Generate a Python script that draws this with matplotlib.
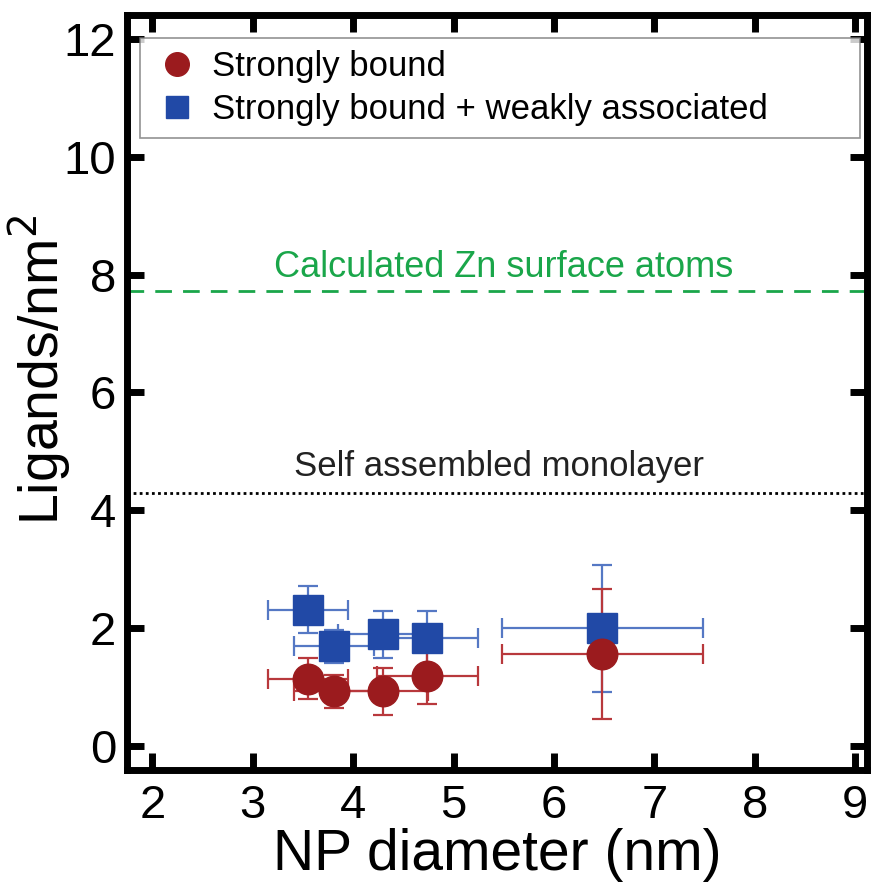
import matplotlib
matplotlib.use("Agg")
import matplotlib.pyplot as plt
from matplotlib.lines import Line2D

# Data
diam = [3.55, 3.81, 4.30, 4.74, 6.48]
diam_err = [0.40, 0.40, 0.45, 0.50, 1.00]
strong = [1.15, 0.93, 0.93, 1.20, 1.57]
strong_err = [0.35, 0.28, 0.40, 0.48, 1.10]
total = [2.32, 1.70, 1.90, 1.83, 2.00]
total_err = [0.40, 0.28, 0.40, 0.46, 1.08]
zn_surface = 7.72
sam = 4.30

regular = ['Liberation Sans', 'DejaVu Sans']
plt.rcParams['font.family'] = regular

fig = plt.figure(figsize=(8.77, 8.86), dpi=100)
ax = fig.add_axes([0.145, 0.131, 0.844, 0.852])

red_m = '#9b1b1e'
red_l = '#b8383c'
blue_m = '#2149a6'
blue_l = '#5578c4'

ax.errorbar(diam, total, yerr=total_err, xerr=diam_err, fmt='none',
            ecolor=blue_l, elinewidth=1.6, capsize=7, capthick=1.6, zorder=2)
ax.errorbar(diam, strong, yerr=strong_err, xerr=diam_err, fmt='none',
            ecolor=red_l, elinewidth=1.6, capsize=7, capthick=1.6, zorder=2)
ax.plot(diam, total, 's', color=blue_m, markersize=21, zorder=3)
ax.plot(diam, strong, 'o', color=red_m, markersize=22, zorder=4)

ax.axhline(zn_surface, color='#1aa64a', ls=(0, (6, 4)), lw=2)
ax.axhline(sam, color='black', ls=(0, (1, 1.2)), lw=2)
ax.text(5.5, 8.12, 'Calculated Zn surface atoms', color='#1aa64a',
        fontsize=26, ha='center', va='center')
ax.text(5.45, 4.74, 'Self assembled monolayer', color='#222222',
        fontsize=25, ha='center', va='center')

ax.set_xlim(1.75, 9.12)
ax.set_ylim(-0.4, 12.4)
ax.set_xticks(range(2, 10))
ax.set_yticks(range(0, 13, 2))
ax.tick_params(direction='in', length=12, width=5, top=True, right=True,
               labelsize=34, color='black')
ax.tick_params(axis='x', pad=10)
ax.tick_params(axis='y', pad=8)
for s in ax.spines.values():
    s.set_linewidth(5)

ax.set_xlabel('NP diameter (nm)', fontsize=41, labelpad=0)
ax.set_ylabel('Ligands/nm$^2$', fontsize=40)
ax.yaxis.set_label_coords(-0.072, 0.53)

handles = [Line2D([], [], marker='o', color=red_m, ls='none', markersize=17),
           Line2D([], [], marker='s', color=blue_m, ls='none', markersize=16)]
leg = ax.legend(handles, ['Strongly bound', 'Strongly bound + weakly associated'],
                loc='upper left', bbox_to_anchor=(0.018, 0.834, 0.972, 0.136),
                mode='expand', frameon=True, fancybox=False, edgecolor='#777777',
                prop={'size': 25}, handletextpad=0.3, borderaxespad=0,
                borderpad=0.35, labelspacing=0.3, handlelength=1.4)
leg.get_frame().set_linewidth(1.2)

fig.savefig('out.png', dpi=100)
